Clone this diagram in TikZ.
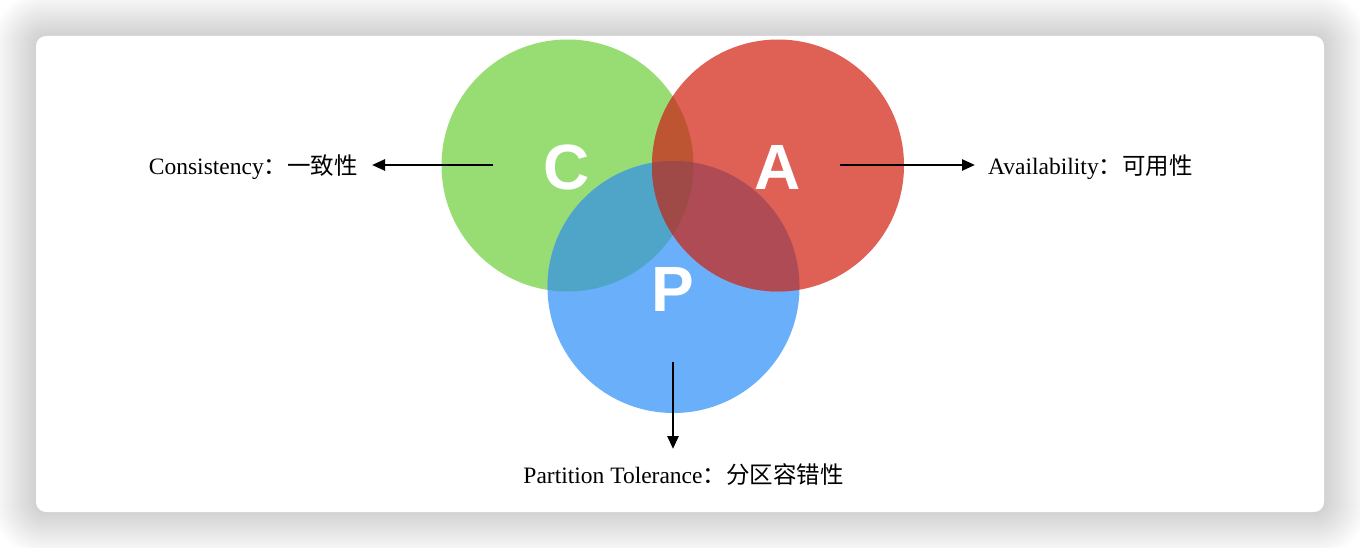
\documentclass[tikz,border=0pt]{standalone}
\usepackage{fontspec}
\setmainfont{Liberation Serif}
\newfontfamily\cjk{Noto Sans CJK SC}
\newfontfamily\capfont{Liberation Sans}
\usetikzlibrary{arrows.meta}
\definecolor{cG}{RGB}{152,221,115}
\definecolor{cR}{RGB}{223,96,84}
\definecolor{cB}{RGB}{106,175,250}
\definecolor{cGB}{RGB}{78,165,200}
\definecolor{cGR}{RGB}{190,85,50}
\definecolor{cRB}{RGB}{175,75,85}
\definecolor{cRGB}{RGB}{160,74,72}
\tikzset{
  lbl/.style={inner sep=0pt, font=\fontsize{23.5}{28}\selectfont, text=black},
  capletter/.style={inner sep=0pt, text=white, font=\capfont\bfseries\fontsize{64}{70}\selectfont},
  arr/.style={line width=2.6pt, -{Triangle[length=13pt,width=11pt]}},
}
\begin{document}
\begin{tikzpicture}[x=1pt,y=-1pt]
\useasboundingbox (0,0) rectangle (1360,548);
% shadow
\foreach \i in {45,44,...,1} {
  \pgfmathsetmacro{\rr}{10+\i}
  \fill[black, opacity=0.005, rounded corners=\rr pt] (36-\i,36-\i) rectangle (1324+\i,512+\i);
}
% card
\fill[white, rounded corners=10pt] (36,36) rectangle (1324,512);
% circle centres
\coordinate (Cc) at (567.5,165.5);
\coordinate (Ac) at (778,165.5);
\coordinate (Pc) at (673.5,287);
\fill[cG] (Cc) circle[radius=126pt];
\fill[cB] (Pc) circle[radius=126pt];
\fill[cR] (Ac) circle[radius=126pt];
\begin{scope}
  \clip (Cc) circle[radius=126pt];
  \fill[cGB] (Pc) circle[radius=126pt];
  \fill[cGR] (Ac) circle[radius=126pt];
\end{scope}
\begin{scope}
  \clip (Ac) circle[radius=126pt];
  \fill[cRB] (Pc) circle[radius=126pt];
\end{scope}
\begin{scope}
  \clip (Cc) circle[radius=126pt];
  \clip (Ac) circle[radius=126pt];
  \fill[cRGB] (Pc) circle[radius=126pt];
\end{scope}
% letters
\node[capletter] (C) at (567,167) {C};
\node[capletter] (A) at (778,167) {A};
\node[capletter] (P) at (673,289) {P};
% labels
\node[lbl, anchor=base east] (cons) at (358,175) {Consistency{\cjk ：一致性}};
\node[lbl, anchor=base west] (avail) at (988,175) {Availability{\cjk ：可用性}};
\node[lbl, anchor=base] (part) at (683.5,483) {Partition Tolerance{\cjk ：分区容错性}};
% arrows
\coordinate (cs) at (493,165);
\coordinate (ce) at (372,165);
\coordinate (as) at (840,165);
\coordinate (ae) at (975,165);
\coordinate (ps) at (673,362);
\coordinate (pe) at (673,449);
\draw[arr] (cs) -- (ce);
\draw[arr] (as) -- (ae);
\draw[arr] (ps) -- (pe);
\end{tikzpicture}
\end{document}
